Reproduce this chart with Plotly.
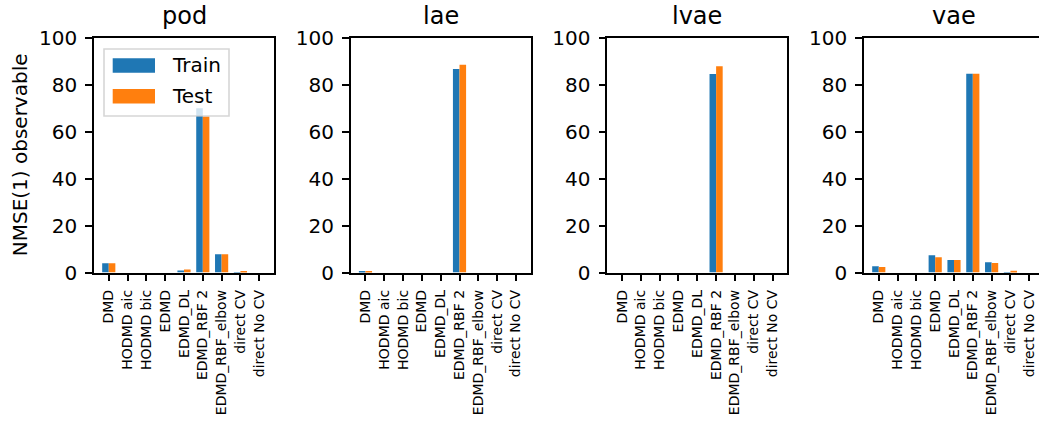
import plotly.graph_objects as go

categories = ["DMD", "HODMD aic", "HODMD bic", "EDMD", "EDMD_DL",
              "EDMD_RBF 2", "EDMD_RBF_elbow", "direct CV", "direct No CV"]
panels = ["pod", "lae", "lvae", "vae"]

pod_train = [3.9, 0, 0, 0, 0.9, 70.0, 7.8, 0.2, 0]
pod_test = [3.9, 0, 0, 0, 1.3, 66.5, 7.8, 0.4, 0]
lae_train = [0.3, 0, 0, 0, 0, 86.8, 0, 0, 0]
lae_test = [0.3, 0, 0, 0, 0, 88.6, 0, 0, 0]
lvae_train = [0, 0, 0, 0, 0, 84.6, 0, 0, 0]
lvae_test = [0, 0, 0, 0, 0, 88.0, 0, 0, 0]
vae_train = [2.7, 0, 0, 7.4, 5.3, 84.8, 4.4, 0.1, 0]
vae_test = [2.3, 0, 0, 6.5, 5.3, 84.8, 4.0, 0.7, 0]

y_ticks = [0, 20, 40, 60, 80, 100]

train = [pod_train, lae_train, lvae_train, vae_train]
test = [pod_test, lae_test, lvae_test, vae_test]

W, H = 1039, 421
BLUE, ORANGE = "#1f77b4", "#ff7f0e"
FONT = "DejaVu Sans"

left_px = [94, 350.7, 607.3, 864]
axw = 180
top_px, bot_px = 38, 272.5
ydom = [1 - bot_px / H, 1 - top_px / H]
lo = -0.785
unit = axw / 9.57

fig = go.Figure()
annotations = []
shapes = []
for i, name in enumerate(panels):
    sfx = "" if i == 0 else str(i + 1)
    x0 = left_px[i]
    x1 = min(x0 + axw, W)
    hi = lo + (x1 - x0) / unit
    fig.add_trace(go.Bar(x=categories, y=train[i], marker_color=BLUE, name="Train",
                         xaxis="x" + sfx, yaxis="y" + sfx, showlegend=False))
    fig.add_trace(go.Bar(x=categories, y=test[i], marker_color=ORANGE, name="Test",
                         xaxis="x" + sfx, yaxis="y" + sfx, showlegend=False))
    fig.layout["xaxis" + sfx] = dict(
        domain=[x0 / W, x1 / W], anchor="y" + sfx, range=[lo, hi], automargin=False,
        type="category", tickangle=-90, ticks="outside", ticklen=7, tickwidth=1.6,
        tickcolor="black", showline=True, linecolor="black", linewidth=1.6,
        mirror=True, showgrid=False, tickfont=dict(family=FONT, size=14, color="black"),
        ticklabelstandoff=3,
    )
    fig.layout["yaxis" + sfx] = dict(
        domain=ydom, anchor="x" + sfx, range=[0, 100], tickvals=y_ticks, automargin=False,
        ticks="outside", ticklen=7, tickwidth=1.6, tickcolor="black",
        showline=True, linecolor="black", linewidth=1.6, mirror=(i < 3),
        showgrid=False, zeroline=False, tickfont=dict(family=FONT, size=20, color="black"),
        ticklabelstandoff=4,
    )
    annotations.append(dict(
        text=name, x=(x0 + axw / 2) / W, y=ydom[1], xref="paper", yref="paper",
        xanchor="center", yanchor="bottom", yshift=6, showarrow=False,
        font=dict(family=FONT, size=24, color="black"),
    ))

annotations.append(dict(
    text="NMSE(1) observable", x=20 / W, y=(ydom[0] + ydom[1]) / 2,
    xref="paper", yref="paper", textangle=-90, showarrow=False,
    xanchor="center", yanchor="middle", font=dict(family=FONT, size=20, color="black"),
))

# legend (drawn inside the pod panel)
def px(x):
    return x / W

def py(y):
    return 1 - y / H

shapes.append(dict(type="rect", xref="paper", yref="paper",
                   x0=px(104), x1=px(229), y0=py(49), y1=py(116),
                   fillcolor="rgba(255,255,255,0.8)", line=dict(color="rgba(204,204,204,0.8)", width=1.6),
                   layer="above"))
for (label, color, yc) in [("Train", BLUE, 65.5), ("Test", ORANGE, 96.2)]:
    shapes.append(dict(type="rect", xref="paper", yref="paper",
                       x0=px(112.7), x1=px(155), y0=py(yc - 7.2), y1=py(yc + 7.2),
                       fillcolor=color, line=dict(width=0), layer="above"))
    annotations.append(dict(text=label, x=px(170), y=py(yc), xref="paper", yref="paper",
                            xanchor="left", yanchor="middle", showarrow=False,
                            font=dict(family=FONT, size=20, color="black")))

fig.update_layout(
    template="none",
    width=W, height=H, margin=dict(l=0, r=0, t=0, b=0, autoexpand=False),
    paper_bgcolor="white", plot_bgcolor="white",
    barmode="group", bargap=0.3, bargroupgap=0,
    annotations=annotations, shapes=shapes, showlegend=False,
    font=dict(family=FONT, color="black"),
)

fig.write_html("out.html", config={"displayModeBar": False},
               post_script="document.body.style.margin='0';document.body.style.overflow='hidden';")
